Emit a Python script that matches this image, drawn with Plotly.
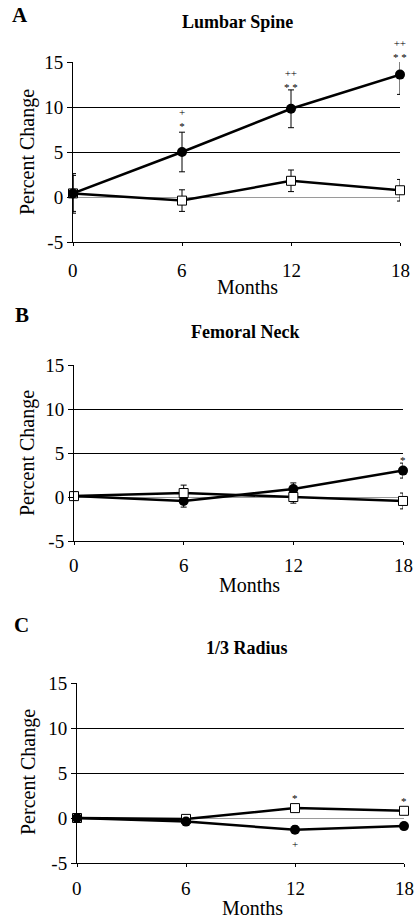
import plotly.graph_objects as go

months = [0, 6, 12, 18]
month_labels = ["0", "6", "12", "18"]
y_ticks = [-5, 0, 5, 10, 15]
y_tick_text = ["-5", "0", "5", "10", "15"]

# Panel A: Lumbar Spine
a_filled = [0.4, 5.0, 9.8, 13.6]
a_filled_err = [2.2, 2.2, 2.1, 2.2]
a_open = [0.4, -0.4, 1.8, 0.75]
a_open_err = [2.0, 1.2, 1.2, 1.2]
# significance marks
a_sig_x = [6, 12, 18]
a_sig_series = ["filled", "filled", "filled"]
a_sig_text = ["+<br>*", "++<br>* *", "++<br>* *"]

# Panel B: Femoral Neck
b_filled = [0.1, -0.45, 0.9, 3.0]
b_filled_err = [0.3, 0.7, 0.7, 0.85]
b_open = [0.1, 0.45, 0.0, -0.45]
b_open_err = [0.3, 0.9, 0.7, 0.9]
b_sig_x = [18]
b_sig_series = ["filled"]
b_sig_text = ["*"]

# Panel C: 1/3 Radius
c_filled = [0.0, -0.4, -1.3, -0.9]
c_filled_err = [0.2, 0.3, 0.4, 0.3]
c_open = [0.0, -0.1, 1.1, 0.8]
c_open_err = [0.2, 0.3, 0.3, 0.3]
c_sig_x = [12, 18, 12]
c_sig_series = ["open", "open", "filled"]
c_sig_text = ["*", "*", "+"]

# pixel offsets of the significance marks (styling)
a_sig_shift = [33, 29, 25]
b_sig_shift = [11]
c_sig_shift = [10, 10, -14]

panels = [
    dict(letter="A", title="Lumbar Spine", filled=a_filled, ferr=a_filled_err,
         open=a_open, oerr=a_open_err, sx=a_sig_x, ss=a_sig_series, st=a_sig_text,
         sh=a_sig_shift,
         xpx=(73, 400), ypx=(62, 242), letter_pos=(20, 15), title_pos=(237, 22),
         months_pos=(247, 287), pc_pos=(28, 152), xlab_y=270, open_on_top=False),
    dict(letter="B", title="Femoral Neck", filled=b_filled, ferr=b_filled_err,
         open=b_open, oerr=b_open_err, sx=b_sig_x, ss=b_sig_series, st=b_sig_text,
         sh=b_sig_shift,
         xpx=(74, 403), ypx=(365, 541), letter_pos=(22, 315), title_pos=(245, 332),
         months_pos=(249, 585), pc_pos=(28, 453), xlab_y=565, open_on_top=True),
    dict(letter="C", title="1/3 Radius", filled=c_filled, ferr=c_filled_err,
         open=c_open, oerr=c_open_err, sx=c_sig_x, ss=c_sig_series, st=c_sig_text,
         sh=c_sig_shift,
         xpx=(77, 404), ypx=(683, 863), letter_pos=(21, 625), title_pos=(247, 648),
         months_pos=(252, 908), pc_pos=(28, 772), xlab_y=888, open_on_top=False),
]

W, H = 415, 919
FONT = "Liberation Serif"
fig = go.Figure()
annotations = []
layout = {}

for i, p in enumerate(panels, start=1):
    xa = "x" if i == 1 else f"x{i}"
    ya = "y" if i == 1 else f"y{i}"
    xk = "xaxis" if i == 1 else f"xaxis{i}"
    yk = "yaxis" if i == 1 else f"yaxis{i}"

    open_tr = go.Scatter(
        x=months, y=p["open"], xaxis=xa, yaxis=ya, mode="lines+markers",
        line=dict(color="black", width=2.5),
        marker=dict(symbol="square", size=9, color="white", line=dict(color="black", width=1)),
        error_y=dict(type="data", array=p["oerr"], color="black", thickness=1, width=3),
        cliponaxis=False, showlegend=False, hoverinfo="skip")
    filled_tr = go.Scatter(
        x=months, y=p["filled"], xaxis=xa, yaxis=ya, mode="lines+markers",
        line=dict(color="black", width=2.5),
        marker=dict(symbol="circle", size=10, color="black"),
        error_y=dict(type="data", array=p["ferr"], color="black", thickness=1, width=3),
        cliponaxis=False, showlegend=False, hoverinfo="skip")
    if p["open_on_top"]:
        fig.add_trace(filled_tr)
        fig.add_trace(open_tr)
    else:
        fig.add_trace(open_tr)
        fig.add_trace(filled_tr)

    x0, x1 = p["xpx"]
    yt, yb = p["ypx"]
    layout[xk] = dict(
        domain=[x0 / W, x1 / W], range=[0, 18], tickmode="array", tickvals=months,
        ticks="outside", ticklen=3, tickwidth=1, tickcolor="black",
        showticklabels=False,
        showline=True, linecolor="black", linewidth=1, showgrid=False, zeroline=False,
        anchor=ya, fixedrange=True, automargin=False)
    layout[yk] = dict(
        domain=[1 - yb / H, 1 - yt / H], range=[-5, 15], tickmode="array",
        tickvals=y_ticks, ticktext=y_tick_text,
        ticks="outside", ticklen=5, tickwidth=1, tickcolor="black",
        showline=True, linecolor="black", linewidth=1,
        showgrid=True, gridcolor="black", gridwidth=1,
        zeroline=True, zerolinecolor="#9a9a9a", zerolinewidth=1,
        tickfont=dict(family=FONT, size=19, color="black"), anchor=xa,
        fixedrange=True, automargin=False)

    # x tick labels (month values) placed under the axis
    for mv, ml in zip(months, month_labels):
        annotations.append(dict(x=mv, y=1 - p["xlab_y"] / H, xref=xa, yref="paper",
                                text=ml, showarrow=False, xanchor="center",
                                yanchor="middle",
                                font=dict(family=FONT, size=19, color="black")))

    for sx, ss, st, sh in zip(p["sx"], p["ss"], p["st"], p["sh"]):
        series = p[ss]
        sy = series[months.index(sx)]
        annotations.append(dict(x=sx, y=sy, xref=xa, yref=ya, text=st, showarrow=False,
                                xanchor="center", yanchor="middle", yshift=sh,
                                font=dict(family=FONT, size=11, color="black")))

    lx, ly = p["letter_pos"]
    annotations.append(dict(x=lx / W, y=1 - ly / H, xref="paper", yref="paper",
                            text=f"<b>{p['letter']}</b>", showarrow=False,
                            xanchor="center", yanchor="middle",
                            font=dict(family=FONT, size=21, color="black")))
    tx, ty = p["title_pos"]
    annotations.append(dict(x=tx / W, y=1 - ty / H, xref="paper", yref="paper",
                            text=f"<b>{p['title']}</b>", showarrow=False,
                            xanchor="center", yanchor="middle",
                            font=dict(family=FONT, size=18, color="black")))
    mx, my = p["months_pos"]
    annotations.append(dict(x=mx / W, y=1 - my / H, xref="paper", yref="paper",
                            text="Months", showarrow=False,
                            xanchor="center", yanchor="middle",
                            font=dict(family=FONT, size=20, color="black")))
    px_, py_ = p["pc_pos"]
    annotations.append(dict(x=px_ / W, y=1 - py_ / H, xref="paper", yref="paper",
                            text="Percent Change", showarrow=False, textangle=-90,
                            xanchor="center", yanchor="middle",
                            font=dict(family=FONT, size=20, color="black")))

fig.update_layout(
    width=W, height=H, margin=dict(l=0, r=0, t=0, b=0, pad=0),
    paper_bgcolor="white", plot_bgcolor="white",
    annotations=annotations, showlegend=False, **layout)

fig.write_html("out.html", config={"displayModeBar": False},
               post_script="document.body.style.margin='0';document.body.style.overflow='hidden';")
